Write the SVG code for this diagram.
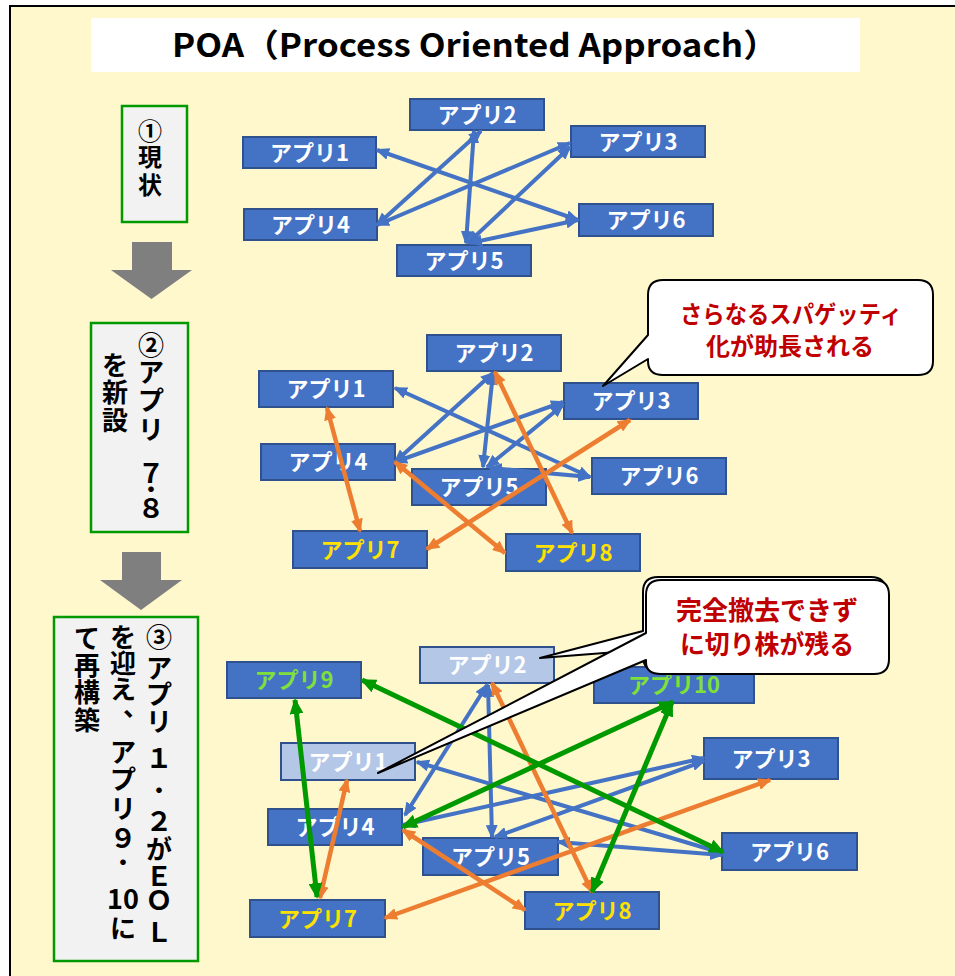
<svg xmlns="http://www.w3.org/2000/svg" width="955" height="976" viewBox="0 0 955 976">
<defs>
<style>
text{font-family:"Noto Sans CJK JP","Noto Sans",sans-serif;font-weight:bold;}
.node rect{fill:#4472C4;stroke:#2F528F;stroke-width:2;}
.node.faded rect{fill:#B4C7E7;}
.node text{fill:#FFFFFF;font-size:22px;text-anchor:middle;}
.node text.yel{fill:#FFE100;}
.node text.grn{fill:#7FE03A;}
.step rect{fill:#F2F2F2;stroke:#009900;stroke-width:2.5;}
.step text{fill:#000000;text-anchor:middle;}
.dot{font-size:22px;}
.lat{font-size:27px;}
.blue{stroke:#4472C4;stroke-width:4;fill:none;marker-start:url(#hb);marker-end:url(#hb);}
.orange{stroke:#ED7D31;stroke-width:4.5;fill:none;marker-start:url(#ho);marker-end:url(#ho);}
.green{stroke:#009900;stroke-width:5;fill:none;marker-start:url(#hg);marker-end:url(#hg);}
.callout path{fill:#FFFFFF;stroke:#000000;stroke-width:2;stroke-linejoin:round;}
.callout text{fill:#C00000;text-anchor:middle;}
.garrow{fill:#7F7F7F;}
</style>
<marker id="hb" viewBox="0 0 14 12" refX="12" refY="6" markerWidth="14" markerHeight="12" markerUnits="userSpaceOnUse" orient="auto-start-reverse"><path d="M0,0 L14,6 L0,12 z" fill="#4472C4"/></marker>
<marker id="ho" viewBox="0 0 14 12" refX="12" refY="6" markerWidth="14" markerHeight="12" markerUnits="userSpaceOnUse" orient="auto-start-reverse"><path d="M0,0 L14,6 L0,12 z" fill="#ED7D31"/></marker>
<marker id="hg" viewBox="0 0 16 14" refX="14" refY="7" markerWidth="16" markerHeight="14" markerUnits="userSpaceOnUse" orient="auto-start-reverse"><path d="M0,0 L16,7 L0,14 z" fill="#009900"/></marker>
</defs>

<rect x="0" y="0" width="955" height="976" fill="#FFFFFF"/>
<rect x="10" y="6" width="960" height="990" fill="#FEF8CC" stroke="#000000" stroke-width="2"/>

<g id="title">
<rect x="91" y="18" width="769" height="54" fill="#FFFFFF"/>
<text x="475" y="57" font-size="32" text-anchor="middle" textLength="606" lengthAdjust="spacingAndGlyphs" fill="#000000">POA（Process Oriented Approach）</text>
</g>

<!-- step labels -->
<g id="step1" class="step">
<rect x="122" y="106" width="65" height="116"/>
<text font-size="24"><tspan x="150" y="140">①</tspan><tspan x="150" y="166">現</tspan><tspan x="150" y="194">状</tspan></text>
</g>
<g id="arrow1"><path class="garrow" d="M132,242 H172 V270 H192 L151.5,299 L111,270 H132 Z"/></g>

<g id="step2" class="step">
<rect x="91" y="323" width="97" height="209"/>
<text font-size="26"><tspan x="151" y="355">②</tspan><tspan x="151" y="382">ア</tspan><tspan x="151" y="410">プ</tspan><tspan x="151" y="439">リ</tspan><tspan class="lat" x="151" y="483">７</tspan><tspan class="dot" x="151" y="497">・</tspan><tspan class="lat" x="151" y="518">８</tspan></text>
<text font-size="26"><tspan x="115" y="375">を</tspan><tspan x="115" y="402">新</tspan><tspan x="115" y="430">設</tspan></text>
</g>
<g id="arrow2"><path class="garrow" d="M122,552 H161 V580 H182 L141,610 L100,580 H122 Z"/></g>

<g id="step3" class="step">
<rect x="54" y="617" width="144" height="344"/>
<text font-size="26"><tspan x="159" y="647">③</tspan><tspan x="159" y="678">ア</tspan><tspan x="159" y="704">プ</tspan><tspan x="159" y="731">リ</tspan><tspan class="lat" x="159" y="768">１</tspan><tspan class="dot" x="159" y="798">・</tspan><tspan class="lat" x="159" y="831">２</tspan><tspan x="159" y="859">が</tspan><tspan class="lat" x="159" y="886">Ｅ</tspan><tspan class="lat" x="159" y="910">Ｏ</tspan><tspan class="lat" x="159" y="942">Ｌ</tspan></text>
<text font-size="26"><tspan x="123" y="647">を</tspan><tspan x="123" y="673">迎</tspan><tspan x="123" y="699">え</tspan><tspan x="136" y="716">、</tspan><tspan x="123" y="762">ア</tspan><tspan x="123" y="789">プ</tspan><tspan x="123" y="818">リ</tspan><tspan class="lat" x="123" y="848">９</tspan><tspan class="dot" x="123" y="870">・</tspan><tspan class="lat" x="123" y="909">10</tspan><tspan x="123" y="938">に</tspan></text>
<text font-size="26"><tspan x="87" y="648">て</tspan><tspan x="87" y="675">再</tspan><tspan x="87" y="702">構</tspan><tspan x="87" y="730">築</tspan></text>
</g>

<!-- Section 1 nodes -->
<g id="s1-app1" class="node"><rect x="243" y="137" width="133" height="31"/><text x="309.5" y="160.5">アプリ1</text></g>
<g id="s1-app2" class="node"><rect x="410" y="99" width="134" height="31"/><text x="477" y="122.5">アプリ2</text></g>
<g id="s1-app3" class="node"><rect x="571" y="126" width="134" height="31"/><text x="638" y="149.5">アプリ3</text></g>
<g id="s1-app4" class="node"><rect x="244" y="209" width="133" height="31"/><text x="310.5" y="232.5">アプリ4</text></g>
<g id="s1-app5" class="node"><rect x="397" y="245" width="134" height="31"/><text x="464" y="268.5">アプリ5</text></g>
<g id="s1-app6" class="node"><rect x="579" y="204" width="134" height="32"/><text x="646" y="228">アプリ6</text></g>

<!-- Section 2 nodes -->
<g id="s2-app1" class="node"><rect x="259" y="371" width="134" height="36"/><text x="326" y="397">アプリ1</text></g>
<g id="s2-app2" class="node"><rect x="427" y="335" width="134" height="36"/><text x="494" y="361">アプリ2</text></g>
<g id="s2-app3" class="node"><rect x="564" y="383" width="134" height="36"/><text x="631" y="409">アプリ3</text></g>
<g id="s2-app4" class="node"><rect x="261" y="444" width="134" height="36"/><text x="328" y="470">アプリ4</text></g>
<g id="s2-app5" class="node"><rect x="412" y="469" width="134" height="36"/><text x="479" y="495">アプリ5</text></g>
<g id="s2-app6" class="node"><rect x="592" y="458" width="134" height="36"/><text x="659" y="484">アプリ6</text></g>
<g id="s2-app7" class="node"><rect x="293" y="531" width="134" height="37"/><text class="yel" x="360" y="557.5">アプリ7</text></g>
<g id="s2-app8" class="node"><rect x="506" y="534" width="134" height="37"/><text class="yel" x="573" y="560.5">アプリ8</text></g>

<!-- Section 3 nodes -->
<g id="s3-app9" class="node"><rect x="227" y="662" width="134" height="36"/><text class="grn" x="294" y="688">アプリ9</text></g>
<g id="s3-app2" class="node faded"><rect x="420" y="647" width="134" height="36"/><text x="487" y="673">アプリ2</text></g>
<g id="s3-app10" class="node"><rect x="594" y="667" width="160" height="36"/><text class="grn" x="674" y="693">アプリ10</text></g>
<g id="s3-app1" class="node faded"><rect x="281" y="743" width="134" height="37"/><text x="348" y="769.5">アプリ1</text></g>
<g id="s3-app3" class="node"><rect x="704" y="738" width="134" height="41"/><text x="771" y="766.5">アプリ3</text></g>
<g id="s3-app4" class="node"><rect x="268" y="809" width="134" height="36"/><text x="335" y="835">アプリ4</text></g>
<g id="s3-app5" class="node"><rect x="423" y="838" width="135" height="37"/><text x="490.5" y="864.5">アプリ5</text></g>
<g id="s3-app6" class="node"><rect x="722" y="833" width="135" height="37"/><text x="789.5" y="859.5">アプリ6</text></g>
<g id="s3-app7" class="node"><rect x="250" y="900" width="135" height="37"/><text class="yel" x="317.5" y="926.5">アプリ7</text></g>
<g id="s3-app8" class="node"><rect x="525" y="892" width="134" height="37"/><text class="yel" x="592" y="918.5">アプリ8</text></g>

<!-- Connectors -->
<g id="connectors">
<!-- section 1 -->
<line class="blue" x1="377" y1="150" x2="578" y2="220"/>
<line class="blue" x1="377" y1="225" x2="481" y2="131"/>
<line class="blue" x1="377" y1="225" x2="570" y2="143"/>
<line class="blue" x1="474" y1="131" x2="466" y2="243"/>
<line class="blue" x1="468" y1="243" x2="570" y2="147"/>
<line class="blue" x1="470" y1="243" x2="578" y2="220"/>
<!-- section 2 -->
<line class="blue" x1="395" y1="388" x2="590" y2="477"/>
<line class="blue" x1="395" y1="462" x2="493" y2="373"/>
<line class="blue" x1="395" y1="462" x2="563" y2="402"/>
<line class="blue" x1="493" y1="373" x2="483" y2="467"/>
<line class="blue" x1="487" y1="467" x2="563" y2="405"/>
<line class="blue" x1="490" y1="468" x2="590" y2="477"/>
<line class="orange" x1="327" y1="408" x2="360" y2="531"/>
<line class="orange" x1="395" y1="462" x2="505" y2="553"/>
<line class="orange" x1="495" y1="372" x2="572" y2="533"/>
<line class="orange" x1="630" y1="420" x2="427" y2="549"/>
<!-- section 3 -->
<line class="blue" x1="405" y1="815" x2="487" y2="685"/>
<line class="blue" x1="488" y1="685" x2="492" y2="837"/>
<line class="blue" x1="417" y1="762" x2="722" y2="853"/>
<line class="blue" x1="403" y1="825" x2="704" y2="758"/>
<line class="blue" x1="495" y1="837" x2="704" y2="761"/>
<line class="blue" x1="558" y1="842" x2="722" y2="855"/>
<line class="orange" x1="347" y1="780" x2="320" y2="898"/>
<line class="orange" x1="403" y1="830" x2="525" y2="910"/>
<line class="orange" x1="492" y1="683" x2="592" y2="892"/>
<line class="orange" x1="770" y1="780" x2="385" y2="918"/>
<line class="green" x1="295" y1="700" x2="317" y2="897"/>
<line class="green" x1="362" y1="680" x2="723" y2="852"/>
<line class="green" x1="403" y1="827" x2="673" y2="702"/>
<line class="green" x1="672" y1="702" x2="592" y2="892"/>
</g>

<!-- Callouts -->
<g id="callout1" class="callout">
<path d="M663,280 H918 Q933,280 933,295 V361 Q933,375 918,375 H663 Q648,375 648,361 V359 L603,386 L648,335 V295 Q648,280 663,280 Z"/>
<text font-size="24"><tspan x="791" y="323" textLength="222" lengthAdjust="spacingAndGlyphs">さらなるスパゲッティ</tspan><tspan x="790" y="355">化が助長される</tspan></text>
</g>
<g id="callout2" class="callout">
<path d="M658,577 H871 Q886,577 886,592 V656 Q886,671 871,671 H658 Q643,671 643,656 V650 L540,658 L643,631 V592 Q643,577 658,577 Z"/>
<path d="M661,580 H874 Q889,580 889,595 V659 Q889,674 874,674 H661 Q646,674 646,662 V660 L378,773 L646,633 V595 Q646,580 661,580 Z" stroke-width="2.5"/>
<text font-size="26"><tspan x="767" y="620">完全撤去できず</tspan><tspan x="767" y="654" textLength="174" lengthAdjust="spacingAndGlyphs">に切り株が残る</tspan></text>
</g>
</svg>
